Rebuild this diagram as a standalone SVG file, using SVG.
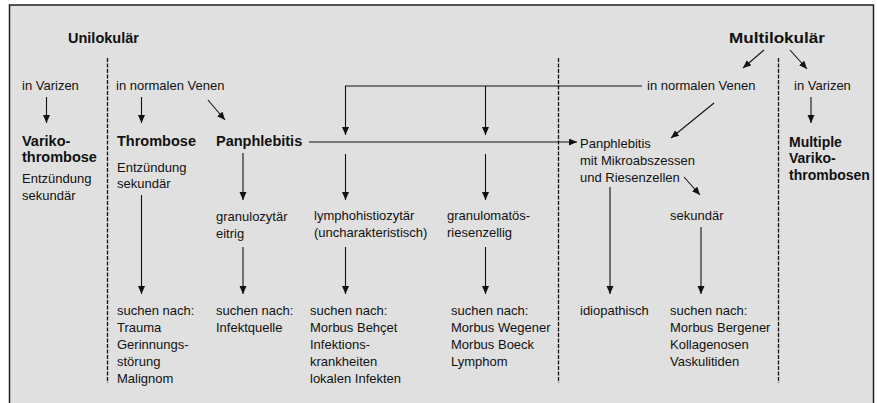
<svg xmlns="http://www.w3.org/2000/svg" width="877" height="403" viewBox="0 0 877 403">
<defs>
<marker id="ah" markerUnits="userSpaceOnUse" markerWidth="9" markerHeight="8" refX="8" refY="3.5" orient="auto" viewBox="0 0 9 8">
<path d="M0,0 L8,3.5 L0,7 z" fill="#111"/>
</marker>
<style>
text{font-family:"Liberation Sans",Arial,sans-serif;font-size:13px;fill:#111}
.b{font-weight:bold;font-size:14.5px}
.br{font-weight:bold;font-size:14px}
.c line,.c path{stroke:#111;stroke-width:1.1;fill:none}
.a{marker-end:url(#ah)}
.d{stroke:#111;stroke-width:1.3;stroke-dasharray:4,1.5}
</style>
</defs>
<rect x="0" y="0" width="877" height="403" fill="#fff"/>
<rect x="9.5" y="5" width="864" height="410" fill="#e0e0e0" stroke="#222" stroke-width="1.5"/>

<g id="separators">
<line class="d" x1="107.5" y1="58" x2="107.5" y2="383"/>
<line class="d" x1="558.5" y1="58" x2="558.5" y2="383"/>
<line class="d" x1="778.5" y1="58" x2="778.5" y2="383"/>
</g>

<g id="n-unilokular"><text class="b" x="68" y="43">Unilokulär</text></g>
<g id="n-multilokular"><text class="b" x="729" y="43" textLength="96" lengthAdjust="spacingAndGlyphs">Multilokulär</text></g>

<g id="n-varizen-l"><text x="22" y="90">in Varizen</text></g>
<g id="n-varikothrombose"><text class="b" x="22" y="146">Variko-</text><text class="b" x="22" y="162">thrombose</text></g>
<g id="n-varikothrombose-info"><text x="22" y="183">Entzündung</text><text x="22" y="200">sekundär</text></g>

<g id="n-normal-l"><text x="116" y="90">in normalen Venen</text></g>
<g id="n-thrombose"><text class="b" x="117" y="146">Thrombose</text><text x="117" y="171.5">Entzündung</text><text x="117" y="188">sekundär</text></g>
<g id="n-suchen-1"><text x="117" y="315">suchen nach:</text><text x="117" y="332">Trauma</text><text x="117" y="349">Gerinnungs-</text><text x="117" y="366">störung</text><text x="117" y="383">Malignom</text></g>

<g id="n-panphlebitis"><text class="b" x="216" y="146">Panphlebitis</text></g>
<g id="n-granulozytar"><text x="216" y="221">granulozytär</text><text x="216" y="238">eitrig</text></g>
<g id="n-suchen-2"><text x="216" y="315">suchen nach:</text><text x="216" y="332">Infektquelle</text></g>

<g id="n-lympho"><text x="314" y="220">lymphohistiozytär</text><text x="314" y="237">(uncharakteristisch)</text></g>
<g id="n-suchen-3"><text x="310" y="315">suchen nach:</text><text x="310" y="332">Morbus Behçet</text><text x="310" y="349">Infektions-</text><text x="310" y="366">krankheiten</text><text x="310" y="383">lokalen Infekten</text></g>

<g id="n-granulomatos"><text x="447" y="220">granulomatös-</text><text x="447" y="237">riesenzellig</text></g>
<g id="n-suchen-4"><text x="451" y="315">suchen nach:</text><text x="451" y="332">Morbus Wegener</text><text x="451" y="349">Morbus Boeck</text><text x="451" y="366">Lymphom</text></g>

<g id="n-normal-r"><text x="647" y="90">in normalen Venen</text></g>
<g id="n-panphlebitis-mikro"><text x="580" y="147.5">Panphlebitis</text><text x="580" y="164.5">mit Mikroabszessen</text><text x="580" y="181.5">und Riesenzellen</text></g>
<g id="n-idiopathisch"><text x="580" y="315">idiopathisch</text></g>
<g id="n-sekundar"><text x="670" y="220">sekundär</text></g>
<g id="n-suchen-5"><text x="670" y="315">suchen nach:</text><text x="670" y="332">Morbus Bergener</text><text x="670" y="349">Kollagenosen</text><text x="670" y="366">Vaskulitiden</text></g>

<g id="n-varizen-r"><text x="794" y="90">in Varizen</text></g>
<g id="n-multiple"><text class="br" x="789" y="147">Multiple</text><text class="br" x="789" y="163">Variko-</text><text class="br" x="789" y="180">thrombosen</text></g>

<g id="connectors" class="c">
<line class="a" x1="46.5" y1="97" x2="46.5" y2="123"/>
<line class="a" x1="141.5" y1="97" x2="141.5" y2="123"/>
<line class="a" x1="208" y1="100" x2="225" y2="120"/>
<line class="a" x1="141.5" y1="195" x2="141.5" y2="294"/>
<line class="a" x1="243" y1="153" x2="243" y2="200"/>
<line class="a" x1="243" y1="247" x2="243" y2="294"/>
<line class="a" x1="309" y1="142" x2="577" y2="142"/>
<path d="M642,86 H345.5 V135" class="a"/>
<line class="a" x1="485.5" y1="86" x2="485.5" y2="135"/>
<line class="a" x1="345.5" y1="154" x2="345.5" y2="200"/>
<line class="a" x1="345.5" y1="247" x2="345.5" y2="294"/>
<line class="a" x1="485.5" y1="154" x2="485.5" y2="200"/>
<line class="a" x1="485.5" y1="247" x2="485.5" y2="294"/>
<line class="a" x1="714" y1="103" x2="671" y2="138"/>
<line class="a" x1="610" y1="187" x2="610" y2="294"/>
<line class="a" x1="684" y1="177" x2="700" y2="195"/>
<line class="a" x1="701" y1="227" x2="701" y2="294"/>
<line class="a" x1="764" y1="50" x2="743" y2="68"/>
<line class="a" x1="790" y1="50" x2="807" y2="69"/>
<line class="a" x1="811" y1="97" x2="811" y2="123"/>
</g>
</svg>
